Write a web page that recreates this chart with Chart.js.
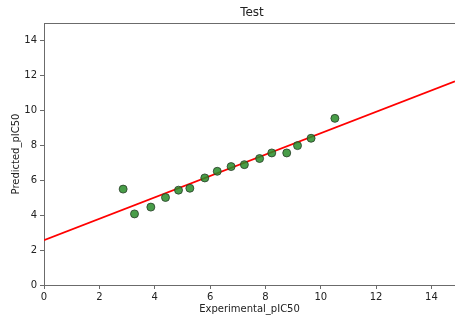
<!DOCTYPE html>
<html>
<head>
<meta charset="utf-8">
<script src="https://cdn.jsdelivr.net/npm/chart.js@4"></script>
<style>
  html, body { margin: 0; padding: 0; background: #fff; }
  #wrap { width: 455px; height: 320px; }
</style>
</head>
<body>
<div id="wrap"><canvas id="myChart" width="455" height="320"></canvas></div>
<script>
'use strict'

// data
const experimental = [2.86, 3.27, 3.86, 4.39, 4.86, 5.27, 5.81, 6.26, 6.76, 7.24, 7.79, 8.23, 8.77, 9.16, 9.65, 10.51];
const predicted = [5.49, 4.07, 4.46, 5.01, 5.43, 5.54, 6.13, 6.51, 6.78, 6.89, 7.24, 7.56, 7.56, 7.98, 8.40, 9.54];
// fit line end points
const fitX = [0, 14.85];
const fitY = [2.57, 11.66];
const xTicks = [0, 2, 4, 6, 8, 10, 12, 14];
const yTicks = [0, 2, 4, 6, 8, 10, 12, 14];

const axisColor = '#6b6b6b';
const tickFont = { family: 'DejaVu Sans', size: 10 };

let points = experimental.map((x, i) => ({ x: x, y: predicted[i] }));
let fitLine = fitX.map((x, i) => ({ x: x, y: fitY[i] }));

// title over the axes + top spine
const extras = {
  id: 'extras',
  afterDraw(chart) {
    const ctx = chart.ctx;
    const area = chart.chartArea;
    ctx.save();
    ctx.strokeStyle = axisColor;
    ctx.lineWidth = 1;
    ctx.beginPath();
    ctx.moveTo(area.left, area.top + 0.5);
    ctx.lineTo(area.right, area.top + 0.5);
    ctx.stroke();
    ctx.fillStyle = '#222';
    ctx.font = '12px "DejaVu Sans"';
    ctx.textAlign = 'center';
    ctx.textBaseline = 'middle';
    ctx.fillText('Test', 252, 13);
    ctx.restore();
  }
};

const config = {
  data: {
    datasets: [{
      type: 'line',
      label: 'fit',
      data: fitLine,
      borderColor: 'rgb(255, 0, 0)',
      borderWidth: 1.8,
      pointRadius: 0,
      fill: false,
      order: 2
    },
    {
      type: 'scatter',
      label: 'Test',
      data: points,
      backgroundColor: 'rgba(40, 140, 40, 0.85)',
      borderColor: 'rgba(40, 60, 40, 0.8)',
      borderWidth: 1,
      pointRadius: 4,
      order: 1
    }]
  },
  options: {
    responsive: false,
    animation: false,
    layout: { autoPadding: false, padding: { top: 23, right: 0, left: 0, bottom: 0 } },
    plugins: {
      legend: { display: false },
      tooltip: { enabled: false }
    },
    scales: {
      x: {
        type: 'linear',
        min: 0,
        max: 14.85,
        afterFit(scale) {
          scale.height = 35;
          scale.paddingRight = 0;
          scale.paddingLeft = 0;
        },
        afterBuildTicks(scale) { scale.ticks = xTicks.map(v => ({ value: v })); },
        grid: { drawOnChartArea: false, drawTicks: true, tickLength: 4, color: axisColor },
        border: { display: true, color: axisColor, width: 1 },
        ticks: { color: '#222', font: tickFont, padding: 2, maxRotation: 0 },
        title: { display: true, text: 'Experimental_pIC50', color: '#222', font: tickFont, padding: { top: 0, bottom: 5 } }
      },
      y: {
        type: 'linear',
        min: 0,
        max: 15,
        afterFit(scale) {
          scale.width = 44;
          scale.paddingTop = 0;
          scale.paddingBottom = 0;
        },
        afterBuildTicks(scale) { scale.ticks = yTicks.map(v => ({ value: v })); },
        grid: { drawOnChartArea: false, drawTicks: true, tickLength: 4, color: axisColor },
        border: { display: true, color: axisColor, width: 1 },
        ticks: { color: '#222', font: tickFont, padding: 3 },
        title: { display: true, text: 'Predicted_pIC50', color: '#222', font: tickFont, padding: { top: 10, bottom: 0 } }
      }
    }
  },
  plugins: [extras]
};

let canvasChart = document.getElementById('myChart');
const myChart = new Chart(canvasChart, config);
</script>
</body>
</html>
